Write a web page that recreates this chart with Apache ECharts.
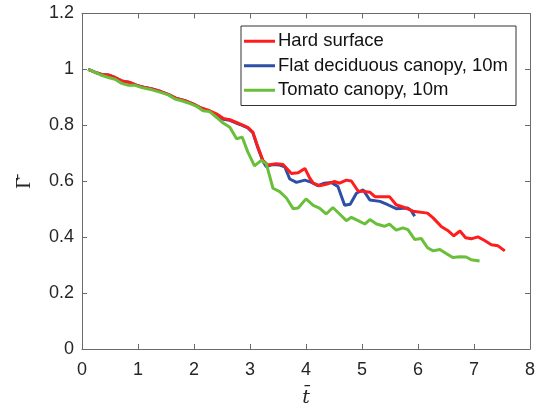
<!DOCTYPE html>
<html><head><meta charset="utf-8">
<script src="https://cdn.jsdelivr.net/npm/echarts@6/dist/echarts.min.js"></script>
<style>html,body{margin:0;padding:0;background:#fff}#c{width:542px;height:413px}</style>
</head><body><div id="c"></div>
<script>
const seriesNames = ['Hard surface', 'Flat deciduous canopy, 10m', 'Tomato canopy, 10m'];
const xTicks = [0, 1, 2, 3, 4, 5, 6, 7, 8];
const yTicks = [0, 0.2, 0.4, 0.6, 0.8, 1, 1.2];

const tHard = [0.11,0.23,0.35,0.47,0.59,0.71,0.86,0.98,1.13,1.27,1.42,1.54,1.69,1.84,1.99,2.1,2.28,2.4,2.52,2.64,2.82,2.96,3.05,3.14,3.23,3.32,3.47,3.59,3.74,3.86,3.98,4.07,4.13,4.24,4.36,4.51,4.6,4.72,4.81,4.93,5.05,5.14,5.23,5.49,5.61,5.73,5.91,6.17,6.27,6.42,6.53,6.64,6.75,6.85,6.95,7.07,7.19,7.31,7.43,7.55];
const vHard = [1.0,0.99,0.982,0.98,0.971,0.959,0.953,0.943,0.935,0.929,0.92,0.911,0.896,0.888,0.876,0.864,0.852,0.841,0.825,0.82,0.805,0.793,0.776,0.723,0.675,0.658,0.663,0.66,0.628,0.63,0.646,0.61,0.593,0.584,0.589,0.599,0.593,0.604,0.601,0.565,0.563,0.561,0.545,0.545,0.516,0.508,0.493,0.486,0.469,0.437,0.424,0.405,0.422,0.398,0.394,0.401,0.388,0.373,0.369,0.351];

const tFlat = [0.11,0.23,0.35,0.47,0.59,0.71,0.86,0.98,1.13,1.27,1.42,1.54,1.69,1.84,1.99,2.1,2.28,2.34,2.43,2.52,2.64,2.82,2.96,3.05,3.14,3.23,3.29,3.4,3.53,3.62,3.71,3.83,3.98,4.1,4.21,4.33,4.45,4.57,4.69,4.79,4.9,5.02,5.14,5.32,5.46,5.61,5.82,5.88,5.94];
const vFlat = [1.0,0.99,0.982,0.98,0.971,0.959,0.953,0.943,0.935,0.929,0.92,0.911,0.896,0.888,0.876,0.864,0.85,0.844,0.835,0.822,0.818,0.803,0.791,0.774,0.72,0.672,0.652,0.66,0.658,0.652,0.608,0.596,0.604,0.596,0.584,0.593,0.596,0.581,0.514,0.518,0.557,0.569,0.533,0.528,0.516,0.502,0.504,0.495,0.475];

const tTomato = [0.11,0.23,0.35,0.47,0.59,0.71,0.83,0.95,1.07,1.25,1.42,1.54,1.66,1.78,1.9,2.05,2.16,2.28,2.4,2.52,2.64,2.76,2.86,2.96,3.08,3.2,3.29,3.41,3.53,3.65,3.77,3.86,4.0,4.13,4.24,4.36,4.48,4.6,4.72,4.81,4.93,5.05,5.14,5.26,5.4,5.49,5.61,5.73,5.82,5.94,6.06,6.17,6.27,6.39,6.51,6.62,6.75,6.86,6.95,7.1];
const vTomato = [1.0,0.99,0.979,0.971,0.965,0.95,0.943,0.943,0.935,0.927,0.917,0.909,0.894,0.888,0.88,0.868,0.852,0.849,0.829,0.808,0.793,0.752,0.758,0.705,0.655,0.675,0.663,0.575,0.563,0.54,0.502,0.504,0.537,0.514,0.504,0.483,0.506,0.483,0.459,0.471,0.459,0.447,0.463,0.447,0.439,0.447,0.425,0.433,0.427,0.392,0.395,0.362,0.351,0.356,0.341,0.327,0.33,0.329,0.319,0.315];

const colors = ['#ff1c1c', '#2d4fa6', '#6abf3a'];
const zip = (a, b) => a.map((x, i) => [x, b[i]]);
const font = 'Liberation Sans, Arial, sans-serif';

const chart = echarts.init(document.getElementById('c'), null, {renderer: 'canvas'});
const axisLine = {show: true, onZero: false, lineStyle: {color: '#6b6b6b', width: 1}};
const tick = {show: true, inside: true, length: 5, lineStyle: {color: '#6b6b6b'}};
const fmt = v => String(Math.round(v * 10) / 10);
chart.setOption({
  animation: false,
  backgroundColor: '#fff',
  grid: {left: 82, right: 12, top: 13.5, bottom: 60.7, containLabel: false},
  xAxis: [
    {type: 'value', min: 0, max: 8, interval: 1, position: 'bottom',
     axisLine, axisTick: tick, splitLine: {show: false},
     axisLabel: {color: '#262626', fontSize: 18, fontFamily: font, margin: 12, formatter: fmt},
     name: 't\u0304', nameLocation: 'middle', nameGap: 40,
     nameTextStyle: {fontFamily: 'DejaVu Serif, Liberation Serif, serif', fontStyle: 'italic', fontSize: 19, color: '#262626'}},
    {type: 'value', min: 0, max: 8, interval: 1, position: 'top',
     axisLine, axisTick: tick, axisLabel: {show: false}, splitLine: {show: false}}
  ],
  yAxis: [
    {type: 'value', min: 0, max: 1.2, interval: 0.2, position: 'left',
     axisLine, axisTick: tick, splitLine: {show: false},
     axisLabel: {color: '#262626', fontSize: 18, fontFamily: font, margin: 8, formatter: fmt, padding: [4, 0, 0, 0]}},
    {type: 'value', min: 0, max: 1.2, interval: 0.2, position: 'right',
     axisLine, axisTick: tick, axisLabel: {show: false}, splitLine: {show: false}}
  ],
  graphic: [{
    type: 'text', x: 25, y: 183, rotation: Math.PI / 2,
    style: {text: '\u0393\u0304', fontFamily: 'Liberation Serif, DejaVu Serif, serif', fontSize: 20,
            fill: '#262626', align: 'center', verticalAlign: 'middle'}
  }],
  legend: {
    show: true, orient: 'vertical', left: 241, top: 26,
    data: seriesNames,
    backgroundColor: '#fff', borderColor: '#333', borderWidth: 1,
    padding: [5, 8, 5, 3], itemGap: 4, itemWidth: 31, itemHeight: 3, icon: 'rect',
    textStyle: {fontFamily: font, fontSize: 18.5, color: '#111', lineHeight: 20.5, padding: [0, 0, 0, -2]}
  },
  series: [
    {name: seriesNames[0], type: 'line', data: zip(tHard, vHard), showSymbol: false, symbol: 'none', z: 3,
     lineStyle: {color: colors[0], width: 3}, itemStyle: {color: colors[0]}},
    {name: seriesNames[1], type: 'line', data: zip(tFlat, vFlat), showSymbol: false, symbol: 'none', z: 2,
     lineStyle: {color: colors[1], width: 3}, itemStyle: {color: colors[1]}},
    {name: seriesNames[2], type: 'line', data: zip(tTomato, vTomato), showSymbol: false, symbol: 'none', z: 4,
     lineStyle: {color: colors[2], width: 3}, itemStyle: {color: colors[2]}}
  ]
});
</script></body></html>
